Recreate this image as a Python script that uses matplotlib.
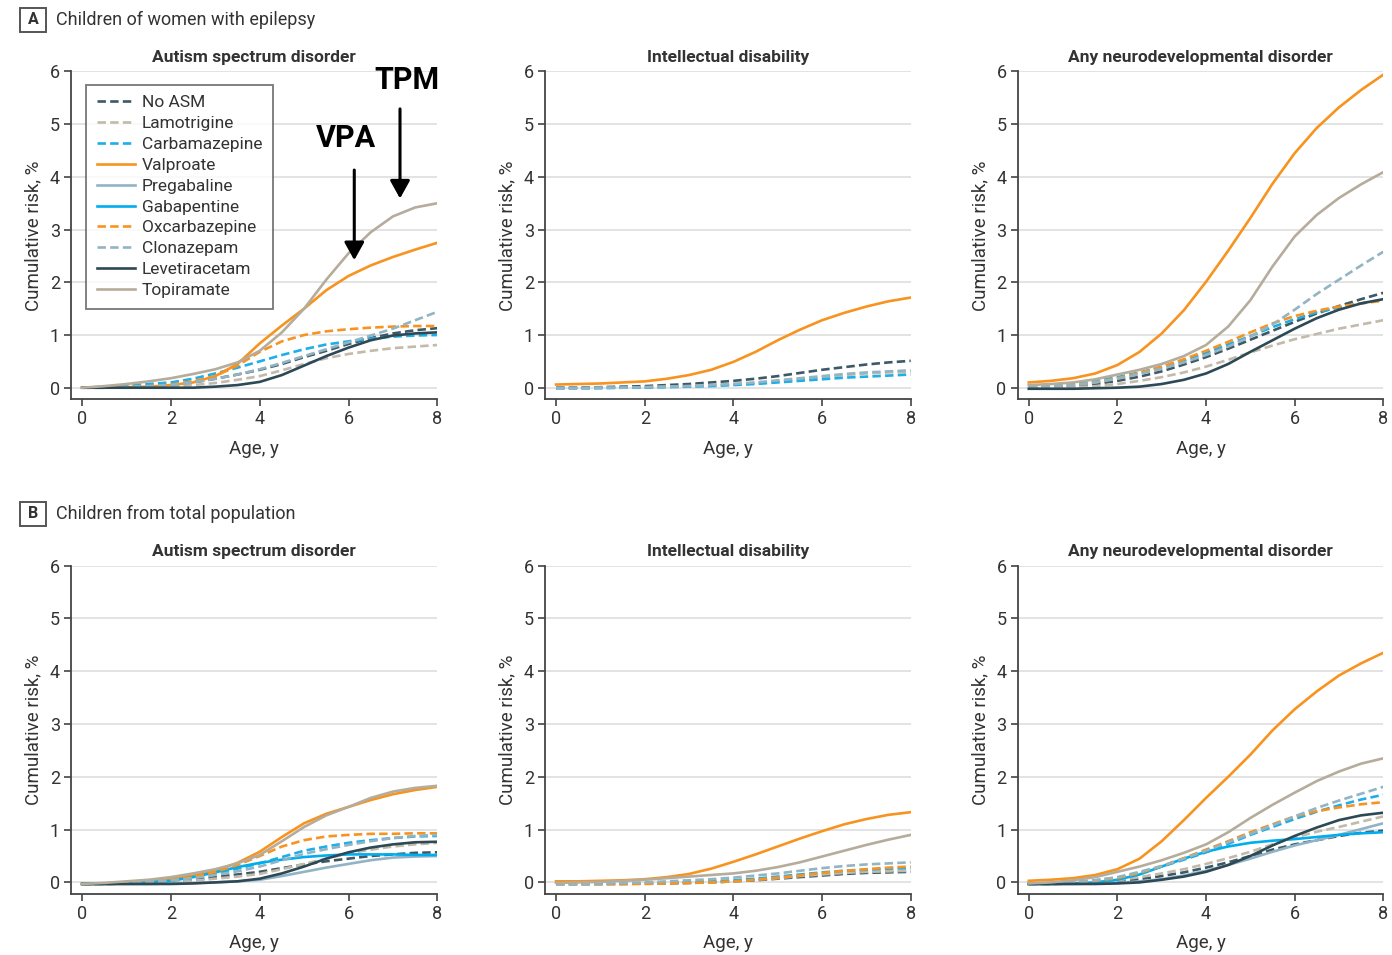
import matplotlib
matplotlib.use("Agg")
import matplotlib.pyplot as plt
from matplotlib.lines import Line2D
from matplotlib.patches import Rectangle

plt.rcParams['font.family'] = ['Roboto', 'DejaVu Sans']

age = [0, 0.5, 1, 1.5, 2, 2.5, 3, 3.5, 4, 4.5, 5, 5.5, 6, 6.5, 7, 7.5, 8]

drugs = ['No ASM', 'Lamotrigine', 'Carbamazepine', 'Valproate', 'Pregabaline',
         'Gabapentine', 'Oxcarbazepine', 'Clonazepam', 'Levetiracetam', 'Topiramate']
colors = ['#3d5966', '#c2baab', '#1eaeea', '#f7931e', '#92b3c5',
          '#00aeef', '#f7931e', '#93b4c3', '#2d4955', '#b5ac9c']
dashed = [True, True, True, False, False, False, True, True, False, False]

# A: children of women with epilepsy
a_asd = {
    'No ASM':        [0, 0, 0.01, 0.03, 0.05, 0.10, 0.17, 0.25, 0.34, 0.45, 0.58, 0.70, 0.83, 0.94, 1.03, 1.09, 1.13],
    'Lamotrigine':   [0, 0, 0, 0.01, 0.02, 0.05, 0.09, 0.15, 0.22, 0.33, 0.45, 0.56, 0.64, 0.70, 0.75, 0.78, 0.81],
    'Carbamazepine': [0, 0.02, 0.04, 0.07, 0.10, 0.17, 0.27, 0.38, 0.50, 0.62, 0.73, 0.82, 0.88, 0.93, 0.97, 0.99, 1.00],
    'Valproate':     [0, 0, 0.01, 0.02, 0.05, 0.10, 0.22, 0.45, 0.84, 1.18, 1.50, 1.85, 2.12, 2.32, 2.48, 2.62, 2.75],
    'Oxcarbazepine': [0, 0, 0.01, 0.03, 0.06, 0.12, 0.22, 0.42, 0.68, 0.88, 1.00, 1.07, 1.11, 1.14, 1.16, 1.17, 1.17],
    'Clonazepam':    [0, 0, 0.01, 0.03, 0.05, 0.10, 0.17, 0.25, 0.35, 0.47, 0.60, 0.73, 0.86, 0.99, 1.12, 1.28, 1.44],
    'Levetiracetam': [0, 0, 0, 0, 0, 0, 0.02, 0.05, 0.11, 0.24, 0.42, 0.60, 0.76, 0.90, 0.99, 1.03, 1.05],
    'Topiramate':    [0, 0.03, 0.07, 0.12, 0.18, 0.26, 0.35, 0.48, 0.70, 1.05, 1.50, 2.05, 2.55, 2.95, 3.25, 3.42, 3.50],
}
a_id = {
    'No ASM':        [0, 0, 0.01, 0.02, 0.03, 0.05, 0.07, 0.10, 0.13, 0.17, 0.22, 0.28, 0.34, 0.39, 0.44, 0.48, 0.51],
    'Lamotrigine':   [-0.01, -0.01, 0, 0, 0.01, 0.02, 0.03, 0.05, 0.07, 0.09, 0.12, 0.16, 0.20, 0.24, 0.27, 0.29, 0.30],
    'Carbamazepine': [-0.01, -0.01, -0.01, 0, 0, 0.01, 0.02, 0.03, 0.05, 0.07, 0.10, 0.13, 0.16, 0.19, 0.21, 0.23, 0.25],
    'Valproate':     [0.06, 0.07, 0.08, 0.10, 0.12, 0.17, 0.24, 0.34, 0.49, 0.68, 0.90, 1.10, 1.28, 1.42, 1.54, 1.64, 1.71],
    'Clonazepam':    [-0.01, -0.01, 0, 0, 0.01, 0.02, 0.03, 0.05, 0.07, 0.10, 0.14, 0.18, 0.22, 0.26, 0.29, 0.31, 0.33],
}
a_ndd = {
    'No ASM':        [0, 0.01, 0.03, 0.07, 0.13, 0.21, 0.31, 0.44, 0.58, 0.74, 0.91, 1.08, 1.25, 1.41, 1.55, 1.68, 1.80],
    'Lamotrigine':   [-0.01, 0, 0.01, 0.03, 0.07, 0.13, 0.20, 0.29, 0.40, 0.53, 0.67, 0.80, 0.92, 1.02, 1.12, 1.20, 1.28],
    'Carbamazepine': [0, 0.03, 0.07, 0.13, 0.20, 0.29, 0.39, 0.52, 0.66, 0.82, 0.98, 1.15, 1.30, 1.43, 1.52, 1.60, 1.67],
    'Valproate':     [0.10, 0.13, 0.18, 0.27, 0.43, 0.68, 1.03, 1.47, 2.01, 2.60, 3.22, 3.87, 4.45, 4.93, 5.32, 5.65, 5.94],
    'Oxcarbazepine': [0, 0.02, 0.05, 0.10, 0.18, 0.28, 0.40, 0.54, 0.70, 0.87, 1.05, 1.22, 1.36, 1.46, 1.54, 1.60, 1.65],
    'Clonazepam':    [0, 0.02, 0.05, 0.10, 0.17, 0.26, 0.36, 0.48, 0.62, 0.78, 0.97, 1.20, 1.48, 1.78, 2.05, 2.32, 2.58],
    'Levetiracetam': [-0.02, -0.02, -0.02, -0.01, 0, 0.02, 0.07, 0.15, 0.27, 0.45, 0.68, 0.90, 1.12, 1.32, 1.48, 1.60, 1.68],
    'Topiramate':    [0.05, 0.07, 0.10, 0.16, 0.25, 0.34, 0.45, 0.60, 0.81, 1.16, 1.66, 2.30, 2.87, 3.28, 3.60, 3.86, 4.09],
}

# B: children from total population
b_asd = {
    'No ASM':        [-0.03, -0.03, -0.02, -0.01, 0.01, 0.05, 0.10, 0.15, 0.20, 0.27, 0.34, 0.40, 0.45, 0.50, 0.53, 0.56, 0.57],
    'Lamotrigine':   [-0.03, -0.03, -0.02, -0.01, 0.01, 0.03, 0.07, 0.11, 0.16, 0.25, 0.35, 0.45, 0.55, 0.62, 0.68, 0.72, 0.75],
    'Carbamazepine': [-0.03, -0.02, -0.01, 0.01, 0.05, 0.10, 0.17, 0.26, 0.36, 0.48, 0.60, 0.68, 0.75, 0.80, 0.84, 0.87, 0.88],
    'Valproate':     [-0.03, -0.02, 0, 0.03, 0.07, 0.13, 0.22, 0.37, 0.58, 0.86, 1.12, 1.30, 1.43, 1.56, 1.67, 1.75, 1.81],
    'Pregabaline':   [-0.03, -0.03, -0.03, -0.03, -0.02, -0.01, 0, 0.02, 0.05, 0.12, 0.20, 0.28, 0.35, 0.42, 0.47, 0.49, 0.50],
    'Gabapentine':   [-0.03, -0.03, -0.02, 0, 0.03, 0.10, 0.19, 0.29, 0.37, 0.43, 0.48, 0.51, 0.53, 0.53, 0.53, 0.52, 0.52],
    'Oxcarbazepine': [-0.03, -0.03, -0.02, 0, 0.04, 0.10, 0.20, 0.33, 0.50, 0.68, 0.80, 0.87, 0.90, 0.92, 0.92, 0.93, 0.93],
    'Clonazepam':    [-0.03, -0.02, -0.01, 0.01, 0.04, 0.08, 0.14, 0.21, 0.30, 0.42, 0.54, 0.63, 0.71, 0.78, 0.84, 0.88, 0.90],
    'Levetiracetam': [-0.03, -0.03, -0.03, -0.03, -0.03, -0.02, 0, 0.02, 0.07, 0.17, 0.30, 0.45, 0.57, 0.66, 0.72, 0.76, 0.77],
    'Topiramate':    [-0.03, -0.01, 0.02, 0.05, 0.10, 0.17, 0.25, 0.36, 0.52, 0.78, 1.05, 1.27, 1.43, 1.60, 1.72, 1.79, 1.83],
}
b_id = {
    'No ASM':        [-0.03, -0.03, -0.03, -0.03, -0.02, -0.02, -0.01, 0, 0.02, 0.04, 0.07, 0.10, 0.13, 0.16, 0.18, 0.19, 0.20],
    'Lamotrigine':   [-0.03, -0.03, -0.03, -0.03, -0.02, -0.02, -0.01, 0, 0.02, 0.05, 0.08, 0.12, 0.15, 0.18, 0.20, 0.21, 0.22],
    'Carbamazepine': [-0.03, -0.03, -0.03, -0.02, -0.02, -0.01, 0, 0.02, 0.04, 0.07, 0.11, 0.15, 0.19, 0.22, 0.24, 0.26, 0.27],
    'Valproate':     [0.02, 0.02, 0.03, 0.04, 0.06, 0.10, 0.16, 0.26, 0.39, 0.53, 0.68, 0.83, 0.97, 1.10, 1.20, 1.28, 1.33],
    'Oxcarbazepine': [-0.03, -0.03, -0.03, -0.03, -0.03, -0.02, -0.01, 0, 0.02, 0.05, 0.09, 0.13, 0.18, 0.22, 0.25, 0.28, 0.30],
    'Clonazepam':    [-0.03, -0.03, -0.02, -0.01, 0, 0.02, 0.04, 0.06, 0.09, 0.13, 0.17, 0.22, 0.27, 0.31, 0.34, 0.36, 0.38],
    'Topiramate':    [-0.01, 0, 0.01, 0.03, 0.05, 0.08, 0.11, 0.14, 0.17, 0.22, 0.29, 0.38, 0.49, 0.60, 0.71, 0.81, 0.90],
}
b_ndd = {
    'No ASM':        [-0.03, -0.03, -0.02, -0.01, 0.02, 0.06, 0.12, 0.19, 0.28, 0.38, 0.50, 0.62, 0.72, 0.80, 0.88, 0.94, 0.98],
    'Lamotrigine':   [-0.03, -0.03, -0.02, 0, 0.04, 0.10, 0.17, 0.25, 0.35, 0.46, 0.58, 0.72, 0.85, 0.96, 1.05, 1.15, 1.25],
    'Carbamazepine': [-0.03, -0.02, 0, 0.04, 0.09, 0.18, 0.30, 0.43, 0.57, 0.73, 0.90, 1.05, 1.20, 1.34, 1.46, 1.57, 1.66],
    'Valproate':     [0.03, 0.05, 0.08, 0.14, 0.25, 0.45, 0.78, 1.18, 1.60, 2.00, 2.42, 2.88, 3.28, 3.62, 3.92, 4.15, 4.35],
    'Pregabaline':   [-0.03, -0.03, -0.03, -0.02, -0.01, 0.02, 0.06, 0.13, 0.22, 0.33, 0.45, 0.58, 0.70, 0.80, 0.90, 1.01, 1.12],
    'Gabapentine':   [-0.03, -0.03, -0.02, 0, 0.05, 0.15, 0.30, 0.45, 0.58, 0.68, 0.75, 0.79, 0.82, 0.86, 0.90, 0.93, 0.95],
    'Oxcarbazepine': [-0.03, -0.02, 0, 0.03, 0.08, 0.18, 0.31, 0.46, 0.62, 0.78, 0.95, 1.10, 1.25, 1.35, 1.42, 1.48, 1.52],
    'Clonazepam':    [-0.03, -0.02, 0, 0.04, 0.10, 0.20, 0.31, 0.45, 0.60, 0.76, 0.92, 1.08, 1.25, 1.41, 1.55, 1.68, 1.81],
    'Levetiracetam': [-0.03, -0.03, -0.03, -0.03, -0.02, 0, 0.05, 0.11, 0.20, 0.33, 0.50, 0.70, 0.88, 1.04, 1.18, 1.27, 1.32],
    'Topiramate':    [-0.02, 0, 0.04, 0.10, 0.20, 0.30, 0.42, 0.56, 0.72, 0.95, 1.22, 1.47, 1.70, 1.92, 2.10, 2.25, 2.35],
}

outcomes = ['Autism spectrum disorder', 'Intellectual disability', 'Any neurodevelopmental disorder']
rows = [[a_asd, a_id, a_ndd], [b_asd, b_id, b_ndd]]
panel_letters = ['A', 'B']
panel_titles = ['Children of women with epilepsy', 'Children from total population']

# arrow annotations (data coords, top-left panel)
tpm_label, tpm_text_xy, tpm_arrow = 'TPM', (7.31, 5.83), ((7.16, 5.29), (7.16, 3.59))
vpa_label, vpa_text_xy, vpa_arrow = 'VPA', (5.95, 4.74), ((6.13, 4.13), (6.13, 2.42))

W, H = 1392, 955
fig = plt.figure(figsize=(W / 100, H / 100), dpi=100)

col_left = [71, 545, 1017.7]
col_right = [437.3, 910.7, 1383.3]
row_top = [71.5, 565.7]
row_bottom = [399.3, 894]

text_col = '#333333'
styles = {d: (c, dsh) for d, c, dsh in zip(drugs, colors, dashed)}

axes = []
for r in range(2):
    for c in range(3):
        ax = fig.add_axes([col_left[c] / W, 1 - row_bottom[r] / H,
                           (col_right[c] - col_left[c]) / W,
                           (row_bottom[r] - row_top[r]) / H])
        data = rows[r][c]
        for d in drugs:
            if d not in data:
                continue
            col, dsh = styles[d]
            if dsh:
                ax.plot(age, data[d], color=col, lw=1.9, dashes=(3.2, 1.6),
                        dash_joinstyle='round')
            else:
                ax.plot(age, data[d], color=col, lw=1.9, solid_joinstyle='round')
        ax.set_xlim(-0.25, 8)
        ax.set_ylim(-0.22, 6)
        ax.set_xticks([0, 2, 4, 6, 8])
        ax.set_yticks(range(7))
        ax.grid(axis='y', color='#e3e3e3', lw=1.4)
        ax.set_axisbelow(True)
        for s in ['top', 'right']:
            ax.spines[s].set_visible(False)
        for s in ['left', 'bottom']:
            ax.spines[s].set_color('#444444')
            ax.spines[s].set_linewidth(1.3)
        ax.tick_params(direction='out', length=5, width=1.2, color='#444444',
                       labelsize=13, labelcolor=text_col, pad=3)
        ax.set_xlabel('Age, y', fontsize=13.5, color=text_col, labelpad=8)
        ax.set_ylabel('Cumulative risk, %', fontsize=13.5, color=text_col, labelpad=5)
        ax.set_title(outcomes[c], fontsize=12.5, fontweight='bold', color='#333333', pad=7)
        axes.append(ax)

# legend on the first panel
handles = [Line2D([], [], color=c, lw=1.9, dashes=(3.2, 1.6)) if dsh else Line2D([], [], color=c, lw=1.9)
           for c, dsh in zip(colors, dashed)]
leg = axes[0].legend(handles, drugs, loc='upper left', bbox_to_anchor=(0.042, 0.96),
                     fontsize=12.5, frameon=True, fancybox=False, handlelength=2.2,
                     labelspacing=0.33, borderpad=0.6, handletextpad=0.4, borderaxespad=0)
leg.get_frame().set_edgecolor('#555555')
leg.get_frame().set_linewidth(1.3)
for t in leg.get_texts():
    t.set_color('#333333')

# arrows
ax0 = axes[0]
for label, txy, (start, tip) in [(tpm_label, tpm_text_xy, tpm_arrow), (vpa_label, vpa_text_xy, vpa_arrow)]:
    ax0.text(txy[0], txy[1], label, fontsize=22, fontweight='bold', color='black',
             ha='center', va='center')
    ax0.annotate('', xy=tip, xytext=start,
                 arrowprops=dict(arrowstyle='-|>,head_length=0.9,head_width=0.5',
                                 lw=2.2, color='black', mutation_scale=12,
                                 shrinkA=0, shrinkB=0))

# panel headers
for letter, title, ytop in zip(panel_letters, panel_titles, [8, 502]):
    fig.patches.append(Rectangle((20 / W, 1 - (ytop + 24) / H), 26 / W, 24 / H,
                                 transform=fig.transFigure, fill=False,
                                 edgecolor='#555555', lw=1.4))
    fig.text(33 / W, 1 - (ytop + 12) / H, letter, fontsize=11.5, fontweight='bold',
             color='#333333', ha='center', va='center')
    fig.text(56 / W, 1 - (ytop + 12) / H, title, fontsize=13, color='#333333',
             ha='left', va='center')

fig.savefig('out.png', dpi=100, facecolor='white')
